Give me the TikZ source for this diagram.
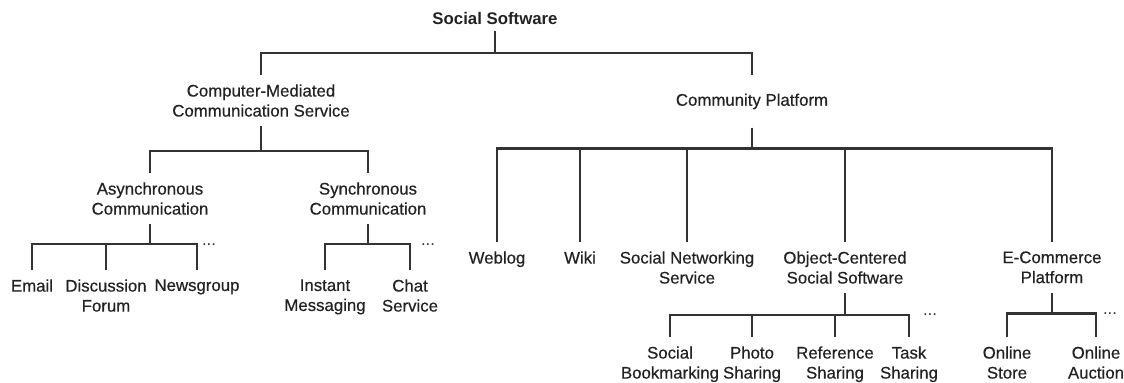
\documentclass[tikz,border=0pt]{standalone}
\usepackage{fontspec}
\setmainfont{Liberation Sans}
\newfontfamily\heavysans[FakeBold=0.5]{Liberation Sans}
\usepackage{tikz}
\usetikzlibrary{positioning}
\usepackage{xcolor}
\definecolor{inkgray}{HTML}{222222}
\definecolor{linegray}{HTML}{333333}

\begin{document}
\begin{tikzpicture}[x=0.5pt, y=-0.5pt,
		term/.style={align=center, anchor=north, inner xsep=0pt, inner ysep=4.5pt, text=inkgray, font=\fontsize{8.4}{10}\selectfont\heavysans},
		branch/.style={draw=linegray, line width=1.3pt},
		more/.style={inner sep=0pt, text=linegray, font=\fontsize{8.4}{10}\selectfont}]
			\useasboundingbox (0,0) rectangle (1124,383);
			% root
			\node[term, inner ysep=3pt, font=\fontsize{8.4}{10}\selectfont\bfseries] (ss) at (495,6) {Social Software};
			\node[term] (cmcs) at (261,75) {Computer-Mediated\\Communication Service};
			\node[term, minimum height=26pt] (cp) at (752,75) {Community Platform};
			\draw[branch] (ss.south) -- ++(0,22) -| (cmcs.north);
			\draw[branch] (ss.south) -- ++(0,22) -| (cp.north);
			% communication services
			\node[term] (async) at (150,173) {Asynchronous\\Communication};
			\node[term] (sync) at (368,173) {Synchronous\\Communication};
			\draw[branch] (cmcs.south) -- ++(0,25) -| (async.north);
			\draw[branch] (cmcs.south) -- ++(0,25) -| (sync.north);
			\node[term] (email) at (32,270) {Email};
			\node[term] (forum) at (106,270) {Discussion\\Forum};
			\node[term] (news) at (197,270) {Newsgroup};
			\node[more] (asyncmore) at (209,245) {...};
			\draw[branch] (async.south) -- ++(0,20) -| (email.north);
			\draw[branch] (async.south) -- ++(0,20) -| (forum.north);
			\draw[branch] (async.south) -- ++(0,20) -| (news.north);
			\node[term] (im) at (325,270) {Instant\\Messaging};
			\node[term] (chat) at (410,270) {Chat\\Service};
			\node[more] (syncmore) at (428,245) {...};
			\draw[branch] (sync.south) -- ++(0,20) -| (im.north);
			\draw[branch] (sync.south) -- ++(0,20) -| (chat.north);
			% community platforms
			\node[term] (weblog) at (497,242) {Weblog};
			\node[term] (wiki) at (580,242) {Wiki};
			\node[term] (sns) at (687,242) {Social Networking\\Service};
			\node[term] (ocss) at (845,242) {Object-Centered\\Social Software};
			\node[term] (ecp) at (1052,242) {E-Commerce\\Platform};
			\foreach \kid in {weblog, wiki, sns, ocss, ecp}
				\draw[branch] (cp.south) -- ++(0,21) -| (\kid.north);
			% object-centered
			\node[term] (bookmark) at (670,337) {Social\\Bookmarking};
			\node[term] (photo) at (752,337) {Photo\\Sharing};
			\node[term] (refshare) at (835,337) {Reference\\Sharing};
			\node[term] (task) at (909,337) {Task\\Sharing};
			\node[more] (ocssmore) at (930,315) {...};
			\foreach \kid in {bookmark, photo, refshare, task}
				\draw[branch] (ocss.south) -- ++(0,22) -| (\kid.north);
			% e-commerce
			\node[term] (store) at (1007,337) {Online\\Store};
			\node[term] (auction) at (1096,337) {Online\\Auction};
			\node[more] (ecpmore) at (1110,314) {...};
			\draw[branch] (ecp.south) -- ++(0,21) -| (store.north);
			\draw[branch] (ecp.south) -- ++(0,21) -| (auction.north);
		\end{tikzpicture}
\end{document}
